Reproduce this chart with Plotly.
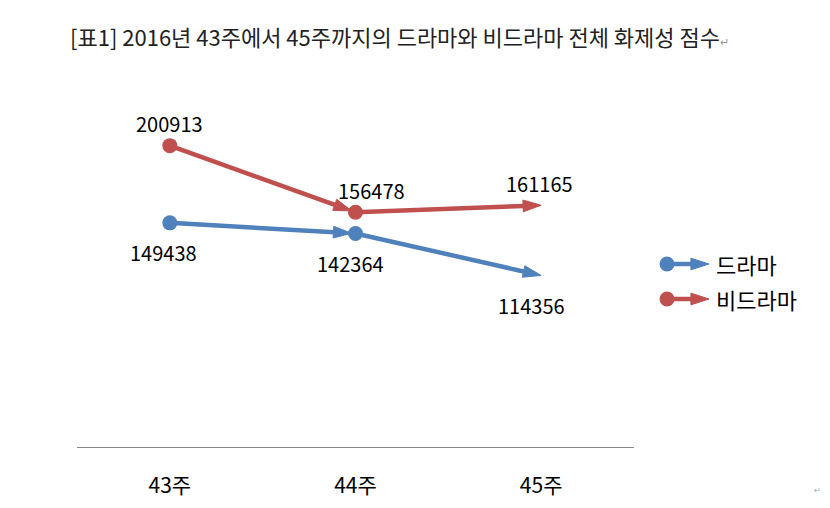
import plotly.graph_objects as go

weeks = ['43주', '44주', '45주']
drama = [149438, 142364, 114356]
nondrama = [200913, 156478, 161165]
names = ['드라마', '비드라마']
title = '[표1] 2016년 43주에서 45주까지의 드라마와 비드라마 전체 화제성 점수'

blue = '#4F81BD'
red = '#C0504D'
font = 'Noto Sans CJK KR'

# page has an 8px body margin, so pixel targets are shifted by 8
W, H = 830, 508
L, R, T, B = 69, 2, 64, 69
pw, ph = W - L - R, H - T - B


def arrow_marker(col, standoff=0):
    return dict(symbol='arrow', size=[0, 19], color=col, angleref='previous', opacity=1,
                standoff=[0, standoff], line=dict(width=1, color=col))


fig = go.Figure()

# each segment: line ending in an arrow, circle at the start
for vals, col in [(drama, blue), (nondrama, red)]:
    for i in range(len(weeks) - 1):
        last = i == len(weeks) - 2
        fig.add_trace(go.Scatter(
            x=weeks[i:i + 2], y=vals[i:i + 2], mode='lines+markers',
            line=dict(color=col, width=4.5),
            marker=arrow_marker(col, 0 if last else 4),
            showlegend=False, hoverinfo='skip'))
    fig.add_trace(go.Scatter(
        x=weeks[:-1], y=vals[:-1], mode='markers',
        marker=dict(symbol='circle', size=15, color=col, opacity=1, line=dict(width=0)),
        showlegend=False, hoverinfo='skip'))

# data labels (red above, blue below, small nudges sideways)
xnudge = {'red': [0, 16, -2], 'blue': [-6, -5, -10]}
for vals, shift, key in [(nondrama, 22, 'red'), (drama, -30, 'blue')]:
    for w, v, dx in zip(weeks, vals, xnudge[key]):
        fig.add_annotation(x=w, y=v, text=str(v), showarrow=False, yshift=shift, xshift=dx,
                           font=dict(family=font, size=20, color='#000'))

# hand made legend on a small overlay axis
for row, (nm, col) in enumerate([(names[1], red), (names[0], blue)]):
    fig.add_trace(go.Scatter(
        x=[0, 1], y=[row, row], mode='lines+markers', xaxis='x2', yaxis='y2',
        line=dict(color=col, width=4.5), cliponaxis=False,
        marker=arrow_marker(col),
        showlegend=False, hoverinfo='skip'))
    fig.add_trace(go.Scatter(
        x=[0], y=[row], mode='markers', xaxis='x2', yaxis='y2', cliponaxis=False,
        marker=dict(symbol='circle', size=15, color=col, opacity=1, line=dict(width=0)),
        showlegend=False, hoverinfo='skip'))
    fig.add_annotation(x=1, y=row, xref='x2', yref='y2', text=nm, showarrow=False,
                       xanchor='left', xshift=5, font=dict(family=font, size=22, color='#000'))

fig.add_annotation(x=(60 - L) / pw, y=(H - B - 28) / ph, xref='paper', yref='paper',
                   text=title + "<span style='font-size:11px;color:#999'>↵</span>",
                   showarrow=False, xanchor='left', yanchor='middle',
                   font=dict(family=font, size=22, color='#222'))
fig.add_annotation(x=(815 - L) / pw, y=(H - B - 489) / ph, xref='paper', yref='paper',
                   text='↵', showarrow=False,
                   font=dict(family=font, size=8, color='#aaa'))

fig.update_layout(
    width=W, height=H, margin=dict(l=L, r=R, t=T, b=B),
    paper_bgcolor='white', plot_bgcolor='white',
    xaxis=dict(domain=[0, (626 - L) / pw], type='category', range=[-0.5, 2.5],
               showline=True, linecolor='#888', linewidth=1, showgrid=False, zeroline=False,
               ticks='', ticklabelstandoff=20,
               tickfont=dict(family=font, size=21, color='#000')),
    yaxis=dict(range=[0, 250000], visible=False),
    xaxis2=dict(domain=[(659 - L) / pw, (701 - L) / pw], range=[0, 1], visible=False,
                anchor='y2'),
    yaxis2=dict(domain=[(439 - 308.5) / ph, (439 - 238.5) / ph], range=[-0.5, 1.5],
                visible=False, anchor='x2'),
)

fig.write_html('out.html')
